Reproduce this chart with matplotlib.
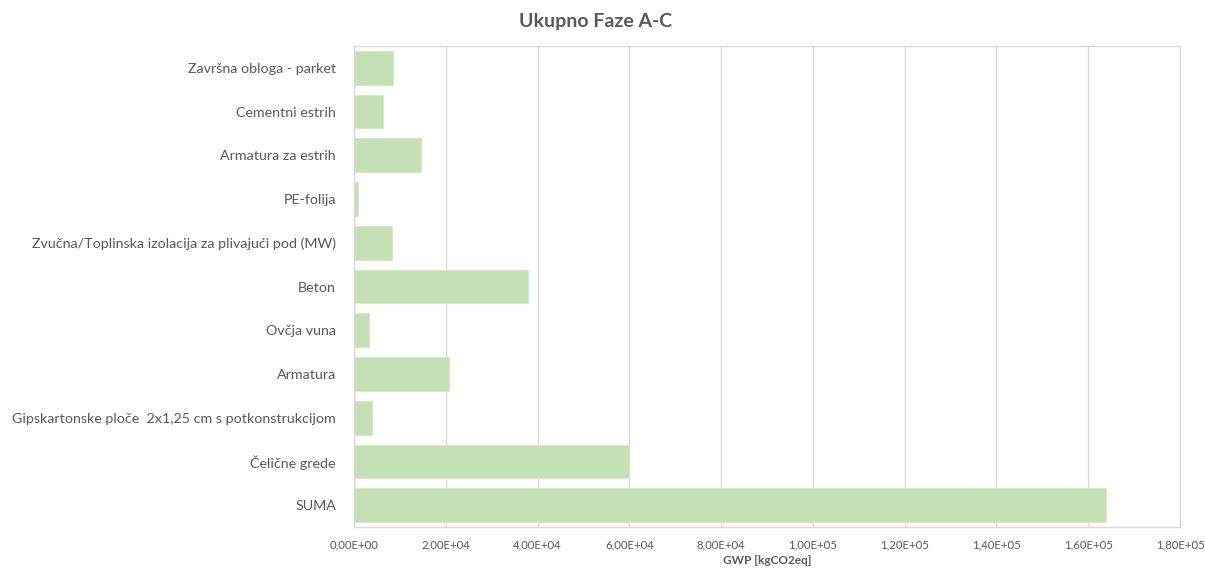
import matplotlib.pyplot as plt
from matplotlib.ticker import FuncFormatter

plt.rcParams['font.family'] = ['Lato', 'DejaVu Sans']

categories = ['Završna obloga - parket', 'Cementni estrih', 'Armatura za estrih',
              'PE-folija', 'Zvučna/Toplinska izolacija za plivajući pod (MW)',
              'Beton', 'Ovčja vuna', 'Armatura',
              'Gipskartonske ploče  2x1,25 cm s potkonstrukcijom',
              'Čelične grede', 'SUMA']
gwp = [8410, 6300, 14570, 940, 8190, 37830, 3260, 20650, 3840, 60000, 163770]

text_col = '#595959'
grid_col = '#d9d9d9'

fig = plt.figure(figsize=(12.05, 5.69), dpi=100)
ax = fig.add_axes([354/1205, 1 - 527/569, (1180-354)/1205, (527-46)/569])

pos = list(range(len(categories)))[::-1]
ax.barh(pos, gwp, height=0.77, color='#c5e0b4', edgecolor='#d5e9c8', linewidth=0.8, zorder=2)

ax.set_xlim(0, 180000)
ax.set_ylim(-0.5, len(categories) - 0.5)
ax.set_xticks(range(0, 180001, 20000))
ax.xaxis.set_major_formatter(FuncFormatter(lambda v, p: ('%.2E' % v).replace('.', ',')))
ax.set_yticks(pos)
ax.set_yticklabels(categories)

ax.grid(axis='x', color=grid_col, linewidth=1, zorder=0)
for s in ax.spines.values():
    s.set_color(grid_col)
    s.set_linewidth(1)

ax.tick_params(axis='y', length=0, pad=13, labelsize=10.3, labelcolor=text_col)
ax.tick_params(axis='x', length=0, pad=9, labelsize=8.2, labelcolor=text_col)

# x axis title placed directly so it stays inside the canvas
fig.text(767/1205, 1 - 561/569, 'GWP [kgCO2eq]', ha='center', va='center',
         fontsize=8.5, fontweight='bold', color=text_col)
fig.text(596/1205, 1 - 22/569, 'Ukupno Faze A-C', ha='center', va='center',
         fontsize=14, fontweight='bold', color=text_col)

fig.savefig('out.png', dpi=100)
